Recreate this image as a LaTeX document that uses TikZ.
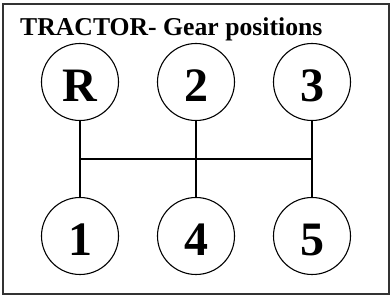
\documentclass[tikz,border=0pt]{standalone}
\usepackage{fontspec}
\setmainfont{Liberation Serif}
\usetikzlibrary{positioning}
\tikzset{gear/.style={circle,draw=black,line width=1.1pt,minimum size=77pt,inner sep=0pt,
  text height=40pt,text depth=0pt,font=\fontsize{48}{52}\selectfont\bfseries}}
\begin{document}
\begin{tikzpicture}[x=1pt,y=-1pt]
		\useasboundingbox (0,0) rectangle (392,299);
		% Frame
		\draw[line width=2pt,black!80] (3,4) rectangle (389,294);
		% Title
		\node[anchor=base west,inner sep=0pt,font=\fontsize{25.7}{30}\selectfont\bfseries] (title) at (20,36) {TRACTOR- Gear positions};
		% Gear circles
		\node[gear] (R) at (80,82) {R};
		\node[gear] (g2) at (196,82) {2};
		\node[gear] (g3) at (312,82) {3};
		\node[gear] (g1) at (80,236) {1};
		\node[gear] (g4) at (196,236) {4};
		\node[gear] (g5) at (312,236) {5};
		% Shift gate
		\coordinate (L) at (80,159);
		\coordinate (M) at (196,159);
		\coordinate (K) at (312,159);
		\draw[line width=1.1pt] (L)--(K);
		\foreach \t/\b/\m in {R/g1/L,g2/g4/M,g3/g5/K}{
				\draw[line width=1.1pt] (\t)--(\m)--(\b);
			}
	\end{tikzpicture}
\end{document}
